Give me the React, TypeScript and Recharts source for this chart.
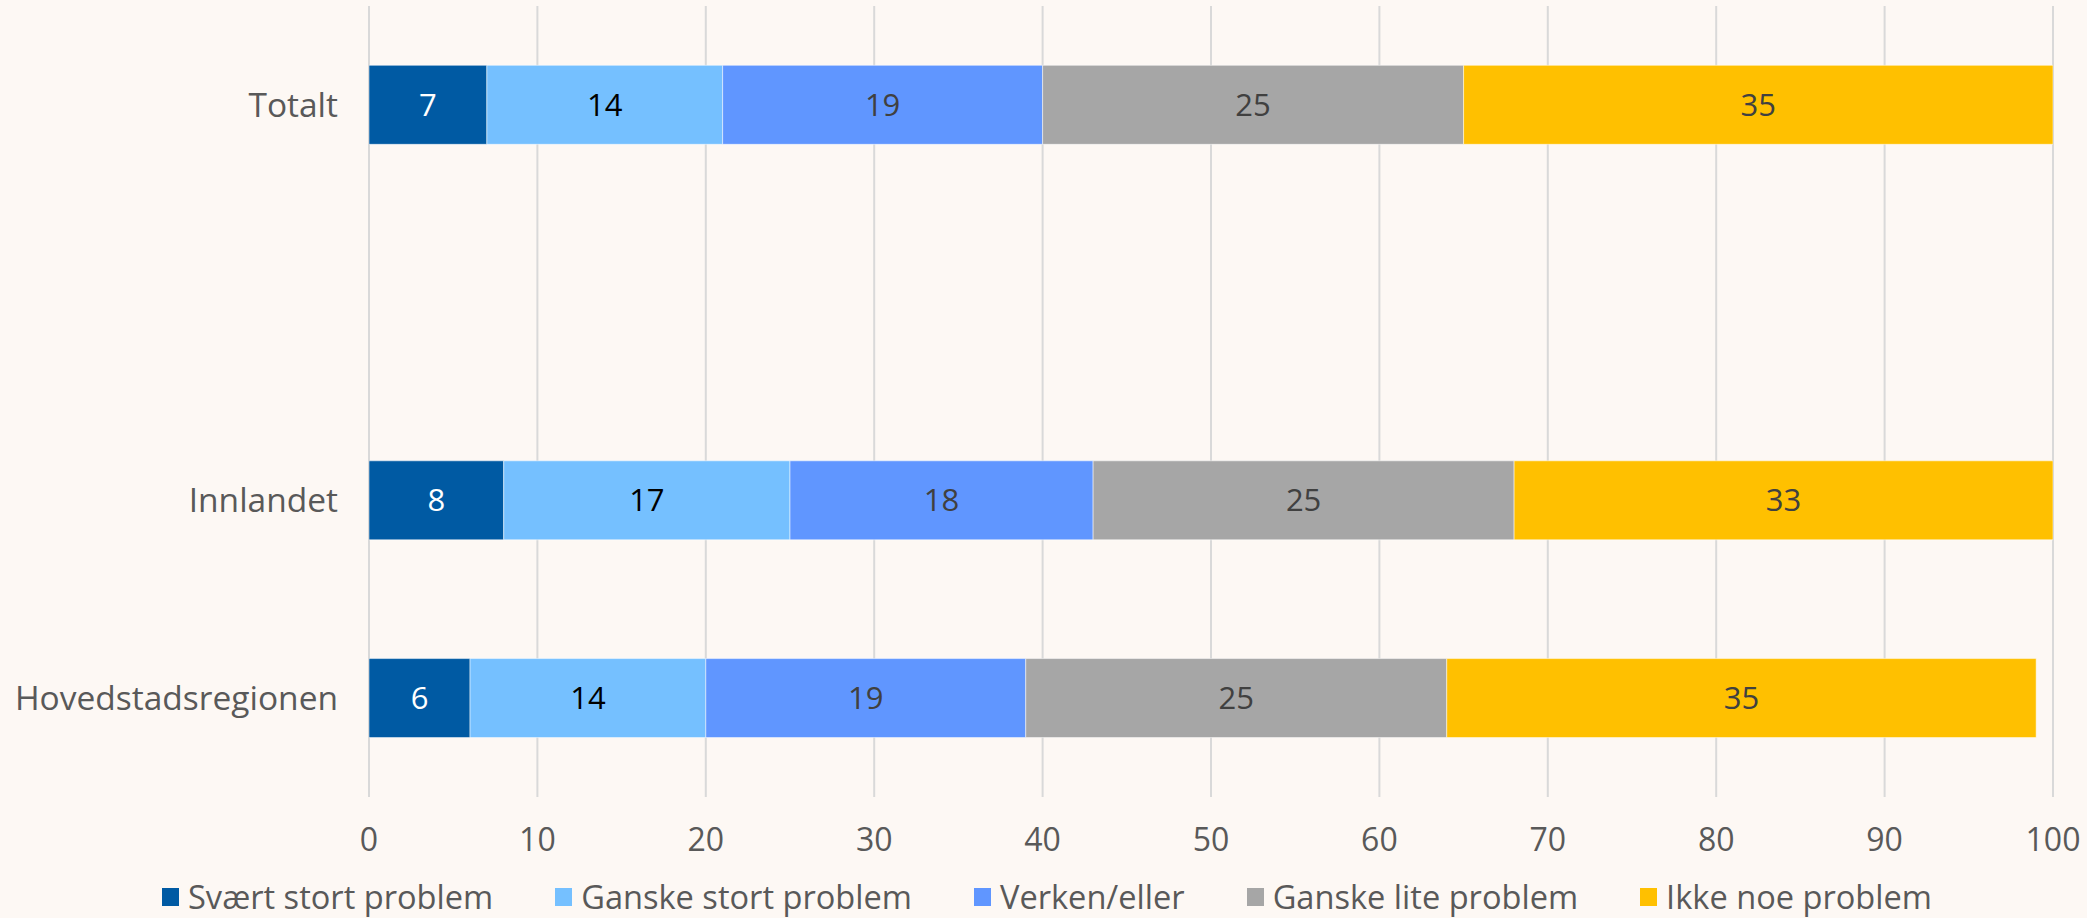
import React from "react";
import {
  BarChart,
  Bar,
  XAxis,
  YAxis,
  CartesianGrid,
  Legend,
  LabelList,
} from "recharts";

// categories (the blank one is the gap row between Totalt and the regions)
const categories = ["Totalt", "", "Innlandet", "Hovedstadsregionen"];

const svaertStort = [7, null, 8, 6];
const ganskeStort = [14, null, 17, 14];
const verkenEller = [19, null, 18, 19];
const ganskeLite = [25, null, 25, 25];
const ikkeNoe = [35, null, 33, 35];

const xTicks = [0, 10, 20, 30, 40, 50, 60, 70, 80, 90, 100];

const SERIES = [
  { key: "svaert", name: "Svært stort problem", color: "#005AA3", label: "#ffffff", values: svaertStort },
  { key: "ganskeStort", name: "Ganske stort problem", color: "#75C0FF", label: "#000000", values: ganskeStort },
  { key: "verken", name: "Verken/eller", color: "#6096FF", label: "#404040", values: verkenEller },
  { key: "ganskeLite", name: "Ganske lite problem", color: "#A6A6A6", label: "#404040", values: ganskeLite },
  { key: "ikke", name: "Ikke noe problem", color: "#FFC000", label: "#404040", values: ikkeNoe },
];

const data = categories.map((name, i) => {
  const row: Record<string, string | number | null> = { name };
  SERIES.forEach((s) => {
    row[s.key] = s.values[i];
  });
  return row;
});

const FONT = "'Open Sans', sans-serif";
const BG = "#FDF8F4";

function LegendContent() {
  return (
    <div
      style={{
        height: 42,
        display: "flex",
        alignItems: "center",
        justifyContent: "center",
        gap: 62,
        fontFamily: FONT,
        fontSize: 32.6,
        color: "#595959",
        paddingLeft: 41,
      }}
    >
      {SERIES.map((s) => (
        <div key={s.key} style={{ display: "flex", alignItems: "center", gap: 9 }}>
          <span style={{ width: 17, height: 18, background: s.color, display: "inline-block" }} />
          <span style={{ lineHeight: "40px" }}>{s.name}</span>
        </div>
      ))}
    </div>
  );
}

export default function App() {
  return (
    <div style={{ position: "absolute", left: 0, top: 0, width: 2087, height: 918, background: BG }}>
      <BarChart
        width={2087}
        height={918}
        data={data}
        layout="vertical"
        margin={{ top: 6, right: 34, bottom: 0, left: 0 }}
        barCategoryGap="30%"
      >
        <CartesianGrid horizontal={false} stroke="#D9D9D9" strokeWidth={2} />
        <XAxis
          type="number"
          domain={[0, 100]}
          ticks={xTicks}
          allowDataOverflow
          axisLine={false}
          tickLine={false}
          tickMargin={25}
          height={79}
          tick={{ fill: "#595959", fontSize: 32, fontFamily: FONT }}
        />
        <YAxis
          type="category"
          dataKey="name"
          width={369}
          axisLine={false}
          tickLine={false}
          tickMargin={25}
          tick={{ fill: "#595959", fontSize: 33.5, fontFamily: FONT }}
        />
        <Legend verticalAlign="bottom" content={<LegendContent />} />
        {SERIES.map((s) => (
          <Bar
            key={s.key}
            dataKey={s.key}
            name={s.name}
            stackId="a"
            fill={s.color}
            stroke="#ffffff"
            strokeOpacity={0.5}
            strokeWidth={1}
            isAnimationActive={false}
          >
            <LabelList
              dataKey={s.key}
              position="center"
              fill={s.label}
              style={{ fontSize: 31, fontFamily: FONT }}
            />
          </Bar>
        ))}
      </BarChart>
    </div>
  );
}
